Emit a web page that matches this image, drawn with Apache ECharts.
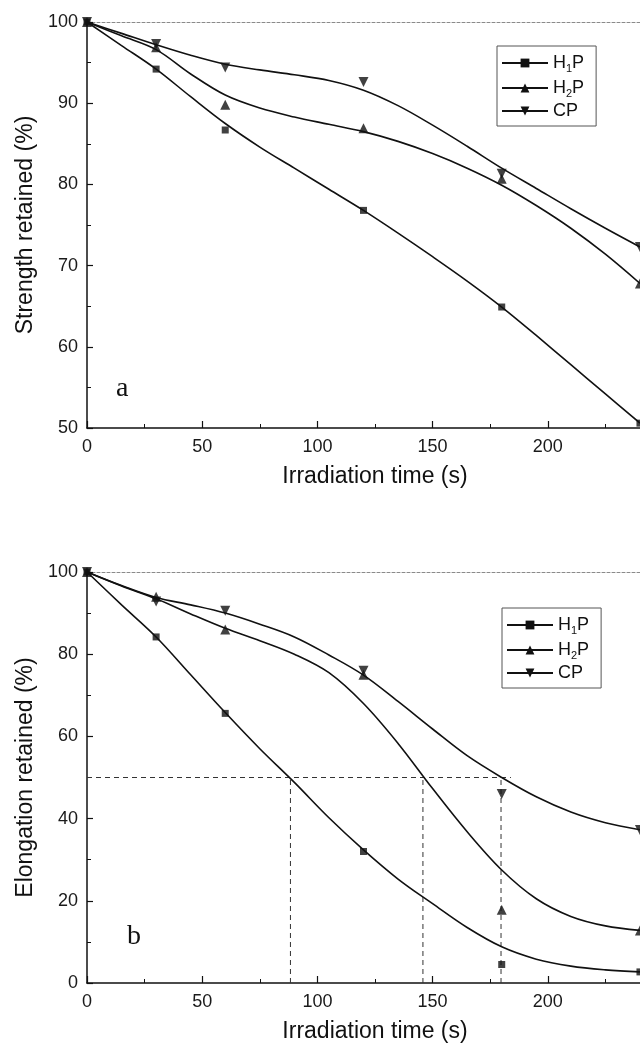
<!DOCTYPE html>
<html>
<head>
<meta charset="utf-8">
<script src="https://cdn.jsdelivr.net/npm/echarts@6/dist/echarts.min.js"></script>
<style>
  html, body { margin: 0; padding: 0; background: #fff; }
  #chart { width: 640px; height: 1044px; }
</style>
</head>
<body>
<div id="chart"></div>
<script>
// Measured points: irradiation time (s)
const markerTimes = [0, 30, 60, 120, 180, 240];

// (a) tensile strength retained (%)
const strengthH1P = [100, 94.2, 86.7, 76.8, 64.9, 50.6];
const strengthH2P = [100, 96.9, 89.8, 86.9, 80.7, 67.8];
const strengthCP  = [100, 97.3, 94.4, 92.6, 81.3, 72.3];

// (b) elongation at break retained (%)
const elongH1P = [100, 84.2, 65.6, 32.0, 4.5, 2.7];
const elongH2P = [100, 94.0, 86.0, 75.0, 17.8, 12.8];
const elongCP  = [100, 92.8, 90.6, 76.0, 46.0, 37.2];

// Fitted trend curves, sampled every 15 s
const fitTimes = [0, 15, 30, 45, 60, 75, 90, 105, 120, 135, 150, 165, 180, 195, 210, 225, 240];
const strengthFitH1P = [100, 97.1, 94.2, 90.8, 87.5, 84.6, 82.0, 79.4, 76.8, 74.0, 71.1, 68.1, 64.9, 61.4, 57.8, 54.2, 50.6];
const strengthFitH2P = [100, 98.3, 96.6, 93.6, 91.0, 89.4, 88.3, 87.4, 86.5, 85.3, 83.8, 82.0, 79.9, 77.4, 74.6, 71.4, 67.8];
const strengthFitCP  = [100, 98.6, 97.2, 95.9, 94.8, 94.1, 93.5, 92.8, 91.6, 89.7, 87.3, 84.7, 82.0, 79.5, 77.0, 74.6, 72.3];
const elongFitH1P = [100, 92.0, 84.2, 75.0, 65.8, 57.0, 48.8, 40.2, 32.4, 25.3, 19.3, 13.5, 8.8, 5.8, 4.1, 3.2, 2.7];
const elongFitH2P = [100, 96.6, 93.5, 89.8, 86.3, 83.3, 80.0, 75.5, 68.0, 58.3, 47.3, 36.8, 27.5, 20.5, 16.2, 13.9, 12.8];
const elongFitCP  = [100, 96.7, 93.8, 92.0, 90.0, 87.3, 84.2, 79.8, 74.9, 68.5, 61.8, 55.3, 50.0, 45.3, 41.6, 39.0, 37.3];

// 50 % retention level and the times each curve reaches it
const halfLevel = 50;
const halfTimes = [88.3, 145.8, 179.7];
const halfLineEnd = 184;

const seriesNames = ['H1P', 'H2P', 'CP'];
const FONT = '"Liberation Sans", Arial, Helvetica, sans-serif';
const INK = '#111';
const downTriangle = 'path://M0,0 L10,0 L5,9 Z';
const symbols = {
  H1P: { symbol: 'rect', size: 7 },
  H2P: { symbol: 'triangle', size: 10 },
  CP:  { symbol: downTriangle, size: 10 }
};

const zip = (xs, ys) => xs.map((x, i) => [x, ys[i]]);

function xAxisFor(gridIndex) {
  return {
    type: 'value', gridIndex, min: 0, max: 250, interval: 50,
    name: 'Irradiation time (s)', nameLocation: 'middle', nameGap: 37,
    nameTextStyle: { fontFamily: FONT, fontSize: 23, color: INK },
    axisLine: { show: true, lineStyle: { color: INK, width: 1.5 } },
    axisTick: { show: true, inside: true, length: 7, lineStyle: { color: INK, width: 1.2 } },
    minorTick: { show: true, splitNumber: 2, length: 4, lineStyle: { color: INK, width: 1 } },
    axisLabel: { fontFamily: FONT, fontSize: 18, color: '#1a1a1a', margin: 10, showMaxLabel: false },
    splitLine: { show: false }
  };
}
function topFrameFor(gridIndex) {
  return {
    type: 'value', gridIndex, position: 'top', min: 0, max: 250,
    axisLine: { show: true, lineStyle: { color: '#8a8a8a', width: 1, type: [3, 2] } },
    axisTick: { show: false }, axisLabel: { show: false }, splitLine: { show: false }
  };
}
function yAxisFor(gridIndex, min, interval, name) {
  return {
    type: 'value', gridIndex, min, max: 100, interval,
    name, nameLocation: 'middle', nameGap: 48,
    nameTextStyle: { fontFamily: FONT, fontSize: 23, color: INK },
    axisLine: { show: true, lineStyle: { color: INK, width: 1.5 } },
    axisTick: { show: true, inside: true, length: 6, lineStyle: { color: INK, width: 1.2 } },
    minorTick: { show: true, splitNumber: 2, length: 4, lineStyle: { color: INK, width: 1 } },
    axisLabel: { fontFamily: FONT, fontSize: 18, color: '#1a1a1a', margin: 9 },
    splitLine: { show: false }
  };
}

function panelSeries(axisIndex, fits, points) {
  const out = [];
  seriesNames.forEach((name, k) => {
    out.push({
      name, type: 'line', xAxisIndex: axisIndex, yAxisIndex: axisIndex,
      data: zip(fitTimes, fits[k]), smooth: 0.35, showSymbol: false,
      symbol: symbols[name].symbol, symbolSize: symbols[name].size,
      lineStyle: { color: INK, width: 1.6 }, itemStyle: { color: INK },
      silent: true, z: 3
    });
    out.push({
      name: name + ' points', type: 'scatter', xAxisIndex: axisIndex, yAxisIndex: axisIndex,
      data: zip(markerTimes, points[k]),
      symbol: symbols[name].symbol, symbolSize: symbols[name].size,
      itemStyle: { color: INK }, silent: true, z: 4
    });
  });
  return out;
}

// Dashed guides marking where each elongation curve falls to 50 %
const guideStyle = { color: '#333', width: 1, type: [5, 4] };
const guideSeries = [{
  type: 'line', xAxisIndex: 1, yAxisIndex: 1, data: [[0, halfLevel], [halfLineEnd, halfLevel]],
  showSymbol: false, symbol: 'none', lineStyle: guideStyle, silent: true, z: 2
}].concat(halfTimes.map(t => ({
  type: 'line', xAxisIndex: 1, yAxisIndex: 1, data: [[t, 0], [t, halfLevel]],
  showSymbol: false, symbol: 'none', lineStyle: guideStyle, silent: true, z: 2
})));

function legendAt(left, top) {
  return {
    left, top, orient: 'vertical', data: seriesNames, selectedMode: false,
    itemWidth: 46, itemHeight: 11, itemGap: 3,
    padding: [6, 12, 6, 4],
    borderColor: '#555', borderWidth: 1, backgroundColor: '#fff',
    textStyle: {
      fontFamily: FONT, fontSize: 18, color: INK,
      rich: {
        sub: { fontFamily: FONT, fontSize: 11, color: INK, lineHeight: 11, padding: [11, 0, 0, 0] }
      }
    },
    formatter: n => n.replace(/^H(\d)P$/, 'H{sub|$1}P')
  };
}

const chart = echarts.init(document.getElementById('chart'), null, { renderer: 'canvas' });
chart.setOption({
  animation: false,
  backgroundColor: '#fff',
  grid: [
    { left: 87, right: -23, top: 22, height: 406, outerBoundsMode: 'none', containLabel: false },
    { left: 87, right: -23, top: 572, height: 411, outerBoundsMode: 'none', containLabel: false }
  ],
  xAxis: [xAxisFor(0), xAxisFor(1), topFrameFor(0), topFrameFor(1)],
  yAxis: [
    yAxisFor(0, 50, 10, 'Strength retained (%)'),
    yAxisFor(1, 0, 20, 'Elongation retained (%)')
  ],
  legend: [legendAt(497, 46), legendAt(502, 608)],
  graphic: [
    { type: 'text', left: 116, top: 375, style: { text: 'a', font: '28px "Liberation Serif", "Times New Roman", serif', fill: INK } },
    { type: 'text', left: 127, top: 923, style: { text: 'b', font: '28px "Liberation Serif", "Times New Roman", serif', fill: INK } }
  ],
  series: [
    ...panelSeries(0, [strengthFitH1P, strengthFitH2P, strengthFitCP], [strengthH1P, strengthH2P, strengthCP]),
    ...panelSeries(1, [elongFitH1P, elongFitH2P, elongFitCP], [elongH1P, elongH2P, elongCP]),
    ...guideSeries
  ]
});
</script>
</body>
</html>
